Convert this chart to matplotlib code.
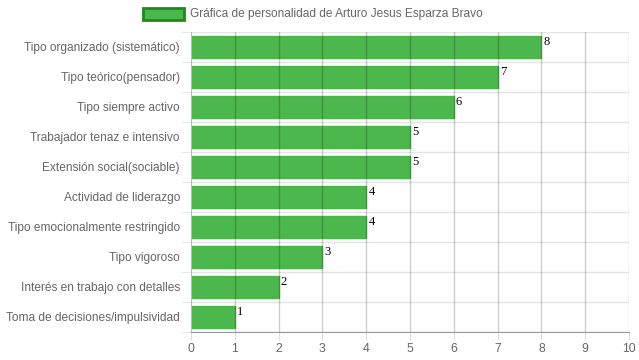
import matplotlib
matplotlib.use("Agg")
import matplotlib.pyplot as plt
from matplotlib.patches import Rectangle
import numpy as np

categories = [
    "Tipo organizado (sistemático)",
    "Tipo teórico(pensador)",
    "Tipo siempre activo",
    "Trabajador tenaz e intensivo",
    "Extensión social(sociable)",
    "Actividad de liderazgo",
    "Tipo emocionalmente restringido",
    "Tipo vigoroso",
    "Interés en trabajo con detalles",
    "Toma de decisiones/impulsividad",
]
values = [8, 7, 6, 5, 5, 4, 4, 3, 2, 1]
legend_label = "Gráfica de personalidad de Arturo Jesus Esparza Bravo"

bar_color = "#4cb74c"
edge_color = "#49b649"
text_color = "#666666"

plt.rcParams["font.family"] = ["Liberation Sans", "DejaVu Sans"]

fig = plt.figure(figsize=(6.39, 3.6), dpi=100)
ax = fig.add_axes([191 / 639, 1 - 332 / 360, 438 / 639, 300 / 360])

y = np.arange(len(categories))
ax.barh(y, values, height=0.73, color=bar_color, edgecolor=edge_color,
        linewidth=1, zorder=2)

for yi, v in zip(y, values):
    ax.text(v + 0.05, yi - 0.38, str(v), family=["Liberation Serif"],
            fontsize=9, va="top", ha="left", color="black", zorder=4)

ax.set_xlim(0, 10)
ax.set_ylim(len(categories) - 0.5, -0.5)
ax.set_xticks(range(0, 11))
ax.set_yticks(y)
ax.set_yticklabels(categories)
ax.set_yticks(np.arange(-0.5, len(categories)), minor=True)

# vertical grid drawn over bars
for xv in range(1, 11):
    ax.axvline(xv, color="black", alpha=0.2, lw=1, zorder=3)
ax.grid(axis="y", which="minor", color="#e5e5e5", lw=1, zorder=1)

ax.tick_params(axis="x", length=6, color="#dddddd", labelcolor=text_color,
               labelsize=8.8, pad=2)
ax.tick_params(axis="y", which="major", length=0, labelcolor=text_color,
               labelsize=8.6, pad=8)
ax.tick_params(axis="y", which="minor", length=7, color="#e5e5e5")

for side in ["top", "right"]:
    ax.spines[side].set_visible(False)
ax.spines["left"].set_color("#bbbbbb")
ax.spines["bottom"].set_color("#999999")

# legend
fig.add_artist(Rectangle((143 / 639, 1 - 20 / 360), 41 / 639, 12 / 360,
                         transform=fig.transFigure, facecolor=bar_color,
                         edgecolor="#1a8c1a", linewidth=2))
fig.text(190 / 639, 1 - 14 / 360, legend_label, fontsize=8.6, color=text_color,
         va="center", ha="left")

fig.savefig("out.png", dpi=100)
